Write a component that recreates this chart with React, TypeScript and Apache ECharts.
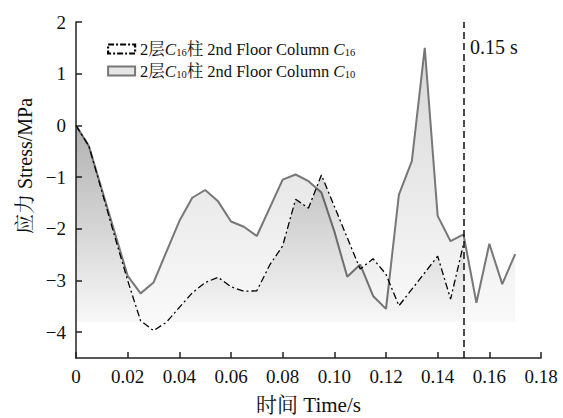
import React, { useEffect, useRef } from 'react';
import * as echarts from 'echarts';

const c10Time = [0, 0.005, 0.02, 0.025, 0.03, 0.04, 0.045, 0.05, 0.055, 0.06, 0.065, 0.07, 0.08, 0.085, 0.09, 0.095, 0.1, 0.105, 0.11, 0.115, 0.12, 0.125, 0.13, 0.135, 0.14, 0.145, 0.15, 0.155, 0.16, 0.165, 0.17];
const c10Stress = [0, -0.4, -2.91, -3.25, -3.04, -1.85, -1.4, -1.25, -1.47, -1.86, -1.96, -2.14, -1.05, -0.95, -1.08, -1.3, -2.05, -2.93, -2.69, -3.3, -3.55, -1.34, -0.69, 1.5, -1.75, -2.24, -2.11, -3.43, -2.29, -3.07, -2.49];

const c16Time = [0, 0.005, 0.015, 0.02, 0.025, 0.03, 0.035, 0.04, 0.045, 0.05, 0.055, 0.06, 0.065, 0.07, 0.075, 0.08, 0.085, 0.09, 0.095, 0.11, 0.115, 0.12, 0.125, 0.14, 0.145, 0.15];
const c16Stress = [0, -0.4, -2.15, -3.0, -3.78, -3.97, -3.81, -3.52, -3.24, -3.04, -2.94, -3.12, -3.21, -3.2, -2.7, -2.33, -1.43, -1.6, -0.96, -2.78, -2.58, -2.88, -3.49, -2.53, -3.36, -2.3];

const yTicks = [-4, -3, -2, -1, 0, 1, 2];
const markTime = 0.15;
const areaBase = -3.8;

const serif = "'Liberation Serif', 'Noto Serif CJK SC', 'Noto Sans CJK SC', serif";

export default function App() {
  const ref = useRef<HTMLDivElement>(null);
  useEffect(() => {
    const chart = echarts.init(ref.current!, null, { renderer: 'svg' });
    const c10Data = c10Time.map((t, i) => [t, c10Stress[i]]);
    const c16Data = c16Time.map((t, i) => [t, c16Stress[i]]);
    const rich = {
      i: { fontStyle: 'italic', fontSize: 17, fontFamily: serif, color: '#111' },
      s: { fontSize: 10.5, fontFamily: serif, color: '#111', verticalAlign: 'bottom', lineHeight: 12 },
    };
    chart.setOption({
      animation: false,
      grid: { left: 76, right: 22, top: 22, bottom: 60, outerBoundsMode: 'none' },
      legend: {
        left: 102,
        top: 35,
        orient: 'vertical',
        itemWidth: 27,
        itemHeight: 9,
        itemGap: 4,
        selectedMode: false,
        textStyle: { fontFamily: serif, fontSize: 16.5, color: '#111', lineHeight: 18, rich },
        formatter: (name: string) =>
          name === 'C16'
            ? '2层{i|C}{s|16}柱 2nd Floor Column {i|C}{s|16}'
            : '2层{i|C}{s|10}柱 2nd Floor Column {i|C}{s|10}',
        data: [
          { name: 'C16', icon: 'rect', itemStyle: { color: '#fff', borderColor: '#000', borderWidth: 2.2, borderType: [6, 2, 2, 2] } },
          { name: 'C10', icon: 'rect', itemStyle: { color: '#e6e6e6', borderColor: '#777', borderWidth: 2 } },
        ],
      },
      xAxis: {
        type: 'value',
        min: 0,
        max: 0.18,
        interval: 0.02,
        name: '时间 Time/s',
        nameLocation: 'middle',
        nameGap: 36,
        nameTextStyle: { fontFamily: serif, fontSize: 21, color: '#111' },
        axisLine: { onZero: false, lineStyle: { color: '#222', width: 1.5 } },
        axisTick: { inside: true, length: 6, lineStyle: { color: '#222', width: 1.5 } },
        axisLabel: {
          fontFamily: serif,
          fontSize: 19,
          color: '#111',
          margin: 9,
          formatter: (v: number) => (v === 0 ? '0' : v.toFixed(2)),
        },
        splitLine: { show: false },
      },
      yAxis: {
        type: 'value',
        min: -4.5,
        max: 2,
        name: '应力 Stress/MPa',
        nameLocation: 'middle',
        nameGap: 41,
        nameTextStyle: { fontFamily: serif, fontSize: 20, color: '#111', padding: [0, 0, 0, 48] },
        axisLine: { onZero: false, lineStyle: { color: '#222', width: 1.5 } },
        axisTick: { inside: true, length: 6, customValues: yTicks, lineStyle: { color: '#222', width: 1.5 } },
        axisLabel: {
          fontFamily: serif,
          fontSize: 19,
          color: '#111',
          margin: 10,
          customValues: yTicks,
          formatter: (v: number) => (v < 0 ? '\u2212' + Math.abs(v) : String(v)),
        },
        splitLine: { show: false },
      },
      series: [
        {
          name: 'C10',
          type: 'line',
          data: c10Data,
          symbol: 'none',
          lineStyle: { color: '#777', width: 2 },
          itemStyle: { color: '#777' },
          areaStyle: {
            origin: areaBase,
            color: new echarts.graphic.LinearGradient(0, 0, 0, 1, [
              { offset: 0, color: 'rgba(0,0,0,0.22)' },
              { offset: 1, color: 'rgba(0,0,0,0.03)' },
            ]),
          },
          markLine: {
            silent: true,
            symbol: ['none', 'none'],
            label: { show: false },
            lineStyle: { type: [7, 4], color: '#111', width: 1.5 },
            data: [{ xAxis: markTime }],
          },
          z: 2,
        },
        {
          name: 'C16',
          type: 'line',
          data: c16Data,
          symbol: 'none',
          lineStyle: { color: '#000', width: 1.3, type: [7, 3, 2, 3] },
          itemStyle: { color: '#000' },
          areaStyle: {
            origin: areaBase,
            color: new echarts.graphic.LinearGradient(0, 0, 0, 1, [
              { offset: 0, color: 'rgba(0,0,0,0.3)' },
              { offset: 1, color: 'rgba(0,0,0,0)' },
            ]),
          },
          z: 3,
        },
      ],
      graphic: [
        {
          type: 'text',
          left: 470,
          top: 37,
          style: { text: '0.15 s', fontFamily: serif, fontSize: 20, fill: '#111' },
        },
      ],
    });
    return () => chart.dispose();
  }, []);
  return <div ref={ref} style={{ position: 'absolute', left: 0, top: 0, width: 563, height: 418 }} />;
}
